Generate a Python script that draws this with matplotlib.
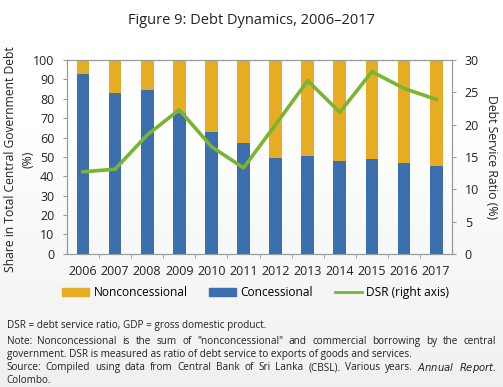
import matplotlib
matplotlib.use("Agg")
import matplotlib.pyplot as plt
import numpy as np
from matplotlib.patches import Patch
from matplotlib.lines import Line2D

plt.rcParams['font.family'] = ['Open Sans', 'DejaVu Sans']

years = ['2006', '2007', '2008', '2009', '2010', '2011',
         '2012', '2013', '2014', '2015', '2016', '2017']
concessional = [92.8, 83.2, 84.5, 72.5, 62.7, 57.0, 49.6, 50.5, 47.9, 48.8, 47.0, 45.4]
nonconcessional = [100 - c for c in concessional]
dsr = [12.7, 13.1, 18.4, 22.3, 16.6, 13.3, 20.0, 26.8, 21.9, 28.2, 25.6, 23.9]

c_orange = '#E6AD24'
c_blue = '#3B6FAE'
c_green = '#79B530'
c_spine = '#9A9A9A'
c_text = '#222222'

fig = plt.figure(figsize=(5.03, 3.87), dpi=100)

# faint grey fade at the bottom, like the screenshot
bg = fig.add_axes([0, 0, 1, 1], zorder=-10)
grad = np.linspace(0, 1, 200)
grad = np.clip((grad - 0.3) / 0.7, 0, 1)
bg.imshow(grad[:, None], aspect='auto', cmap='Greys', vmin=0, vmax=8,
          extent=[0, 1, 0, 1], origin='upper')
bg.axis('off')

ax = fig.add_axes([0.133, 0.344, 0.766, 0.501])
x = np.arange(len(years))
ax.bar(x, concessional, width=0.4, color=c_blue, zorder=2)
ax.bar(x, nonconcessional, width=0.4, bottom=concessional, color=c_orange, zorder=2)
ax.set_xlim(-0.5, len(years) - 0.5)
ax.set_ylim(0, 100)
ax.set_yticks(range(0, 101, 10))
ax.set_xticks(x)
ax.set_xticklabels(years)
ax.set_xticks(np.arange(0.5, len(years) - 1, 1), minor=True)
ax.tick_params(axis='x', which='major', length=0, pad=8, labelsize=9, colors=c_text)
ax.tick_params(axis='x', which='minor', length=3, color=c_spine, direction='out')
ax.tick_params(axis='y', length=3, color=c_spine, labelsize=9, colors=c_text, pad=6)
ax.patch.set_alpha(0)
for s in ax.spines.values():
    s.set_color(c_spine)
    s.set_linewidth(0.8)
ax.set_ylabel('Share in Total Central Government Debt\n(%)', fontsize=8.7,
              color=c_text, linespacing=1.45)
ax.yaxis.set_label_coords(-0.085, 0.49)

ax2 = ax.twinx()
ax2.plot(x, dsr, color=c_green, linewidth=2.6, zorder=3)
ax2.set_ylim(0, 30)
ax2.set_yticks(range(0, 31, 5))
ax2.tick_params(axis='y', length=3, color=c_spine, labelsize=9, colors=c_text, pad=6)
for s in ax2.spines.values():
    s.set_color(c_spine)
    s.set_linewidth(0.8)
ax2.set_ylabel('Debt Service Ratio (%)', rotation=-90, fontsize=8.8,
               color=c_text, labelpad=14)

fig.text(0.5, 0.948, 'Figure 9: Debt Dynamics, 2006\u20132017', ha='center',
         va='center', fontsize=10.5, color=c_text)

handles = [Patch(color=c_orange), Patch(color=c_blue),
           Line2D([], [], color=c_green, linewidth=2)]
labels = ['Nonconcessional', 'Concessional', 'DSR (right axis)']
fig.legend(handles, labels, loc='center', bbox_to_anchor=(0.508, 0.243), ncol=3,
           frameon=False, fontsize=8.6, handlelength=2.3, handleheight=0.6,
           columnspacing=1.8, handletextpad=0.35)

# note lines; the two long ones are justified to the right margin
notes = [
    (0.158, 'DSR = debt service ratio, GDP = gross domestic product.', False),
    (0.118, 'Note: Nonconcessional is the sum of "nonconcessional" and commercial borrowing by the central', True),
    (0.085, 'government. DSR is measured as ratio of debt service to exports of goods and services.', False),
    (0.050, 'Source: Compiled using data from Central Bank of Sri Lanka (CBSL). Various years. $\\it{Annual}$ $\\it{Report}$.', True),
    (0.016, 'Colombo.', False),
]
x0, x1 = 0.013, 0.987
fig.canvas.draw()
rend = fig.canvas.get_renderer()
for yy, t, justify in notes:
    if not justify:
        fig.text(x0, yy, t, fontsize=7.2, color=c_text, va='center', ha='left')
        continue
    words = t.split(' ')
    arts = [fig.text(0, yy, w, fontsize=7.2, color=c_text, va='center', ha='left')
            for w in words]
    widths = [a.get_window_extent(rend).width / fig.bbox.width for a in arts]
    gap = (x1 - x0 - sum(widths)) / (len(words) - 1)
    pos = x0
    for a, w in zip(arts, widths):
        a.set_x(pos)
        pos += w + gap

fig.savefig('out.png', dpi=100)
